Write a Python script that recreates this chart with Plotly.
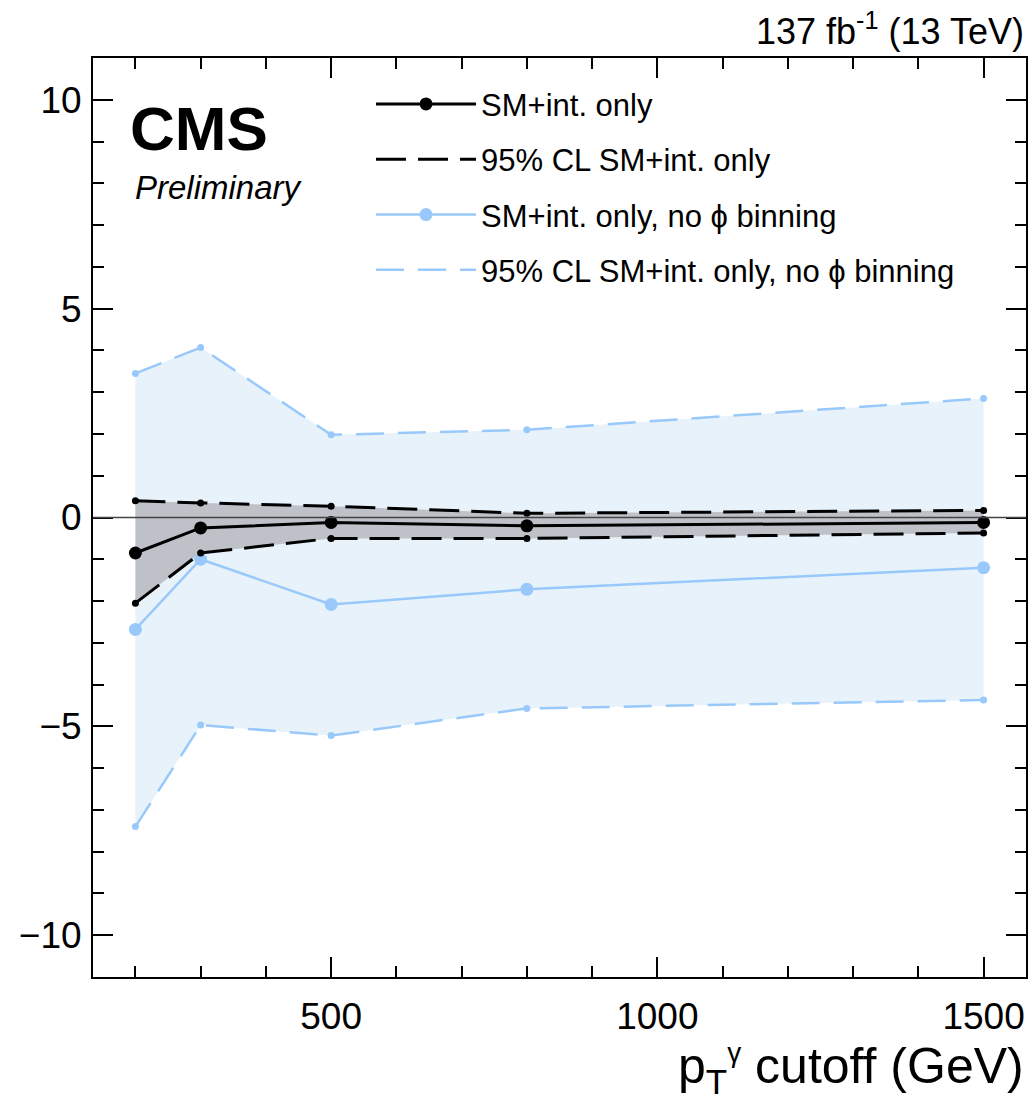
import plotly.graph_objects as go

# ---------------- data ----------------
pt_cut = [200, 300, 500, 800, 1500]

sm_int = [-0.85, -0.25, -0.12, -0.20, -0.12]
sm_int_up = [0.40, 0.35, 0.27, 0.10, 0.17]
sm_int_dn = [-2.05, -0.85, -0.50, -0.50, -0.37]

nophi = [-2.68, -1.00, -2.08, -1.72, -1.20]
nophi_up = [3.45, 4.07, 1.98, 2.10, 2.85]
nophi_dn = [-7.40, -4.97, -5.22, -4.57, -4.37]

names = ["SM+int. only", "95% CL SM+int. only",
         "SM+int. only, no ϕ binning", "95% CL SM+int. only, no ϕ binning"]

BLACK = "#000000"
BLUE = "#99c9fb"
BLUE_FILL = "#e8f2fb"
GRAY_FILL = "#bec2c8"
FONT = "Liberation Sans, Arial, Helvetica, sans-serif"

fig = go.Figure()

# bands
fig.add_trace(go.Scatter(x=pt_cut + pt_cut[::-1], y=nophi_up + nophi_dn[::-1],
                         fill="toself", fillcolor=BLUE_FILL, line=dict(width=0),
                         mode="lines", showlegend=False, hoverinfo="skip"))
fig.add_trace(go.Scatter(x=pt_cut + pt_cut[::-1], y=sm_int_up + sm_int_dn[::-1],
                         fill="toself", fillcolor=GRAY_FILL, line=dict(width=0),
                         mode="lines", showlegend=False, hoverinfo="skip"))

# zero line
fig.add_hline(y=0, line=dict(color="#444444", width=1.5), layer="above")

# blue dashed bounds
fig.add_trace(go.Scatter(x=pt_cut, y=nophi_up, mode="lines",
                         line=dict(color=BLUE, width=2.5, dash="28px,14px"),
                         name=names[3], legendgroup="g4", legendrank=4))
fig.add_trace(go.Scatter(x=pt_cut, y=nophi_dn, mode="lines",
                         line=dict(color=BLUE, width=2.5, dash="28px,14px"),
                         showlegend=False))
fig.add_trace(go.Scatter(x=pt_cut + pt_cut, y=nophi_up + nophi_dn, mode="markers",
                         marker=dict(color=BLUE, size=7), showlegend=False))
# blue central
fig.add_trace(go.Scatter(x=pt_cut, y=nophi, mode="lines+markers",
                         line=dict(color=BLUE, width=2.5),
                         marker=dict(color=BLUE, size=13),
                         name=names[2], legendgroup="g3", legendrank=3))

# black dashed bounds
fig.add_trace(go.Scatter(x=pt_cut, y=sm_int_up, mode="lines",
                         line=dict(color=BLACK, width=3, dash="30px,12px"),
                         name=names[1], legendgroup="g2", legendrank=2))
fig.add_trace(go.Scatter(x=pt_cut, y=sm_int_dn, mode="lines",
                         line=dict(color=BLACK, width=3, dash="30px,12px"),
                         showlegend=False))
fig.add_trace(go.Scatter(x=pt_cut + pt_cut, y=sm_int_up + sm_int_dn, mode="markers",
                         marker=dict(color=BLACK, size=7), showlegend=False))
# black central
fig.add_trace(go.Scatter(x=pt_cut, y=sm_int, mode="lines+markers",
                         line=dict(color=BLACK, width=3),
                         marker=dict(color=BLACK, size=13),
                         name=names[0], legendgroup="g1", legendrank=1))

axis_common = dict(showline=True, linecolor="black", linewidth=2, mirror="allticks",
                   ticks="inside", tickcolor="black", tickwidth=1.5,
                   showgrid=False, zeroline=False,
                   tickfont=dict(family=FONT, size=37, color="black"))

fig.update_xaxes(range=[135, 1565], tickvals=[500, 1000, 1500], ticklen=20,
                 minor=dict(dtick=100, ticklen=11, ticks="inside", tickcolor="black",
                            tickwidth=1.5, showgrid=False),
                 ticklabelstandoff=6, **axis_common)
fig.update_yaxes(range=[-11, 11], tickvals=[-10, -5, 0, 5, 10],
                 ticktext=["−10", "−5", "0", "5", "10"], ticklen=20,
                 minor=dict(dtick=1, ticklen=11, ticks="inside", tickcolor="black",
                            tickwidth=1.5, showgrid=False),
                 ticklabelstandoff=2, **axis_common)

fig.update_layout(
    width=1031, height=1106,
    margin=dict(l=93, r=3, t=58, b=129),
    paper_bgcolor="white", plot_bgcolor="white",
    font=dict(family=FONT, color="black"),
    legend=dict(x=0.298, y=0.979, xanchor="left", yanchor="top",
                bgcolor="rgba(0,0,0,0)", traceorder="grouped", tracegroupgap=12,
                font=dict(family=FONT, size=31, color="black"), itemwidth=100),
    annotations=[
        dict(text="137 fb<sup>-1</sup> (13 TeV)", xref="paper", yref="paper",
             x=1.0, y=1.0, xanchor="right", yanchor="bottom", yshift=4, showarrow=False,
             font=dict(family=FONT, size=36, color="black")),
        dict(text="<b>CMS</b>", xref="paper", yref="paper", x=0.038, y=0.963,
             xanchor="left", yanchor="top", showarrow=False,
             font=dict(family=FONT, size=62, color="black")),
        dict(text="<i>Preliminary</i>", xref="paper", yref="paper", x=0.043, y=0.881,
             xanchor="left", yanchor="top", showarrow=False,
             font=dict(family=FONT, size=33, color="black")),
        dict(text="p<sub>T</sub><sup><span style='font-size:28px'>γ</span></sup> cutoff (GeV)",
             xref="paper", yref="paper",
             x=1.0, y=0, xanchor="right", yanchor="top", yshift=-58, showarrow=False,
             font=dict(family=FONT, size=50, color="black")),
    ],
)

fig.write_html("out.html")
